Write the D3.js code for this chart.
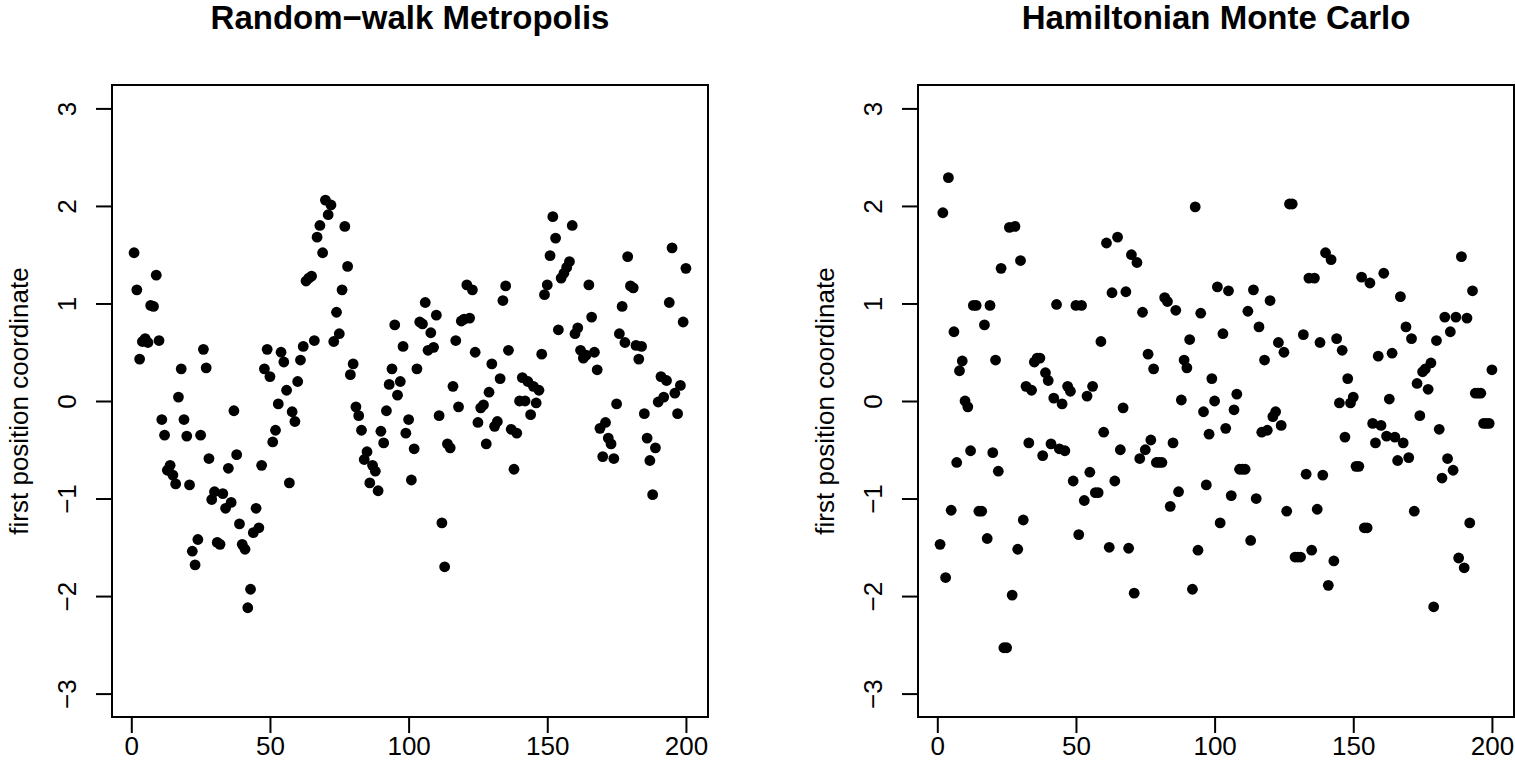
<!DOCTYPE html>
<html>
<head>
<meta charset="utf-8">
<script src="https://cdn.jsdelivr.net/npm/d3@7"></script>
<style>
  body { margin: 0; background: #fff; }
  svg { display: block; }
  text { font-family: "Liberation Sans", Arial, Helvetica, sans-serif; fill: #000; }
</style>
</head>
<body>
<div id="chart"></div>
<script>
var rwmTitle = 'Random\u2212walk Metropolis';
var hmcTitle = 'Hamiltonian Monte Carlo';
var yLabel = 'first position coordinate';
var xTicks = [0, 50, 100, 150, 200];
var yTicks = [-3, -2, -1, 0, 1, 2, 3];

// first coordinate at iterations 1..200, random-walk Metropolis
var rwmValues = [
  1.52, 1.14, 0.43, 0.61, 0.64, 0.60, 0.98, 0.97, 1.29, 0.62,
  -0.19, -0.35, -0.71, -0.66, -0.76, -0.85, 0.04, 0.33, -0.19, -0.36,
  -0.86, -1.54, -1.68, -1.42, -0.35, 0.53, 0.34, -0.59, -1.01, -0.93,
  -1.45, -1.47, -0.95, -1.10, -0.69, -1.04, -0.10, -0.55, -1.26, -1.47,
  -1.52, -2.12, -1.93, -1.35, -1.10, -1.30, -0.66, 0.33, 0.53, 0.25,
  -0.42, -0.30, -0.03, 0.50, 0.40, 0.11, -0.84, -0.11, -0.21, 0.20,
  0.42, 0.56, 1.23, 1.26, 1.28, 0.62, 1.68, 1.80, 1.52, 2.06,
  1.91, 2.01, 0.61, 0.91, 0.69, 1.14, 1.79, 1.38, 0.27, 0.38,
  -0.06, -0.15, -0.30, -0.60, -0.52, -0.84, -0.66, -0.72, -0.92, -0.31,
  -0.43, -0.10, 0.17, 0.33, 0.78, 0.06, 0.20, 0.56, -0.33, -0.19,
  -0.81, -0.49, 0.33, 0.81, 0.79, 1.01, 0.52, 0.70, 0.55, 0.88,
  -0.15, -1.25, -1.70, -0.44, -0.48, 0.15, 0.62, -0.06, 0.82, 0.84,
  1.19, 0.85, 1.14, 0.50, -0.22, -0.07, -0.04, -0.44, 0.09, 0.38,
  -0.26, -0.21, 0.23, 1.03, 1.18, 0.52, -0.29, -0.70, -0.33, 0.00,
  0.24, 0.00, 0.20, -0.14, 0.15, -0.02, 0.11, 0.48, 1.09, 1.19,
  1.49, 1.89, 1.67, 0.73, 1.26, 1.31, 1.37, 1.43, 1.80, 0.69,
  0.75, 0.52, 0.44, 0.47, 1.19, 0.86, 0.50, 0.32, -0.28, -0.57,
  -0.22, -0.38, -0.44, -0.59, -0.03, 0.69, 0.97, 0.60, 1.48, 1.18,
  1.16, 0.57, 0.43, 0.56, -0.13, -0.38, -0.61, -0.96, -0.48, -0.01,
  0.25, 0.04, 0.21, 1.01, 1.57, 0.08, -0.13, 0.16, 0.81, 1.36
];

// same coordinate, Hamiltonian Monte Carlo
var hmcValues = [
  -1.47, 1.93, -1.81, 2.29, -1.12, 0.71, -0.63, 0.31, 0.41, 0.00,
  -0.06, -0.51, 0.98, 0.98, -1.13, -1.13, 0.78, -1.41, 0.98, -0.53,
  0.42, -0.72, 1.36, -2.53, -2.53, 1.78, -1.99, 1.79, -1.52, 1.44,
  -1.22, 0.15, -0.43, 0.11, 0.40, 0.44, 0.44, -0.56, 0.29, 0.21,
  -0.44, 0.03, 0.99, -0.49, -0.03, -0.51, 0.15, 0.10, -0.82, 0.98,
  -1.37, 0.98, -1.02, 0.05, -0.73, 0.15, -0.94, -0.94, 0.61, -0.32,
  1.62, -1.50, 1.11, -0.82, 1.68, -0.50, -0.07, 1.12, -1.51, 1.50,
  -1.97, 1.42, -0.59, 0.91, -0.50, 0.48, -0.40, 0.33, -0.63, -0.63,
  -0.63, 1.06, 1.02, -1.08, -0.43, 0.93, -0.93, 0.01, 0.42, 0.34,
  0.63, -1.93, 1.99, -1.53, 0.90, -0.11, -0.86, -0.34, 0.23, 0.00,
  1.17, -1.25, 0.69, -0.28, 1.13, -0.97, -0.09, 0.07, -0.70, -0.70,
  -0.70, 0.92, -1.43, 1.14, -1.00, 0.76, -0.32, 0.42, -0.30, 1.03,
  -0.16, -0.11, 0.60, -0.25, 0.50, -1.13, 2.02, 2.02, -1.60, -1.60,
  -1.60, 0.68, -0.75, 1.26, -1.53, 1.26, -1.11, 0.60, -0.76, 1.52,
  -1.89, 1.45, -1.64, 0.64, -0.02, 0.52, -0.37, 0.23, -0.02, 0.04,
  -0.67, -0.67, 1.27, -1.30, -1.30, 1.21, -0.23, -0.43, 0.46, -0.25,
  1.31, -0.36, 0.02, 0.49, -0.37, -0.61, 1.07, -0.43, 0.76, -0.58,
  0.64, -1.13, 0.18, -0.15, 0.30, 0.33, 0.12, 0.39, -2.11, 0.62,
  -0.29, -0.79, 0.86, -0.59, 0.71, -0.71, 0.86, -1.61, 1.48, -1.71,
  0.85, -1.25, 1.13, 0.08, 0.08, 0.08, -0.23, -0.23, -0.23, 0.32
];

var width = 1515;
var height = 777;
var box = {top: 85, width: 596, height: 632};

var svg = d3.select('#chart').append('svg')
  .attr('width', width)
  .attr('height', height);

function panel(left, title, values) {
  var n = values.length;
  // R style: range padded by 4% on each side
  var padX = (n - 1) * 0.04;
  var x = d3.scaleLinear().domain([1 - padX, n + padX]).range([0, box.width]);
  var y = d3.scaleLinear().domain([-3.24, 3.24]).range([box.height, 0]);

  var g = svg.append('g')
    .attr('transform', 'translate(' + left + ',' + box.top + ')');

  // Points
  g.selectAll('.pt')
    .data(values)
    .enter().append('circle')
    .attr('class', 'pt')
    .attr('cx', function (d, i) { return x(i + 1); })
    .attr('cy', function (d) { return y(d); })
    .attr('r', 5.4)
    .style('fill', '#000');

  // X axis
  var xAxis = d3.axisBottom(x)
    .tickValues(xTicks)
    .tickSize(16)
    .tickPadding(4);
  var gx = g.append('g')
    .attr('transform', 'translate(0,' + box.height + ')')
    .call(xAxis);
  gx.select('.domain').remove();
  gx.selectAll('line').attr('stroke', '#000').attr('stroke-width', 2);
  gx.selectAll('text')
    .style('font-size', '26px')
    .attr('fill', '#000');

  // Y axis, labels turned like R's las = 0
  var yAxis = d3.axisLeft(y)
    .tickValues(yTicks)
    .tickSize(16)
    .tickFormat(function (v) { return v < 0 ? '\u2212' + Math.abs(v) : v; });
  var gy = g.append('g').call(yAxis);
  gy.select('.domain').remove();
  gy.selectAll('line').attr('stroke', '#000').attr('stroke-width', 2);
  gy.selectAll('text')
    .attr('x', 0)
    .attr('y', -36)
    .attr('dy', 0)
    .attr('transform', 'rotate(-90)')
    .style('text-anchor', 'middle')
    .style('font-size', '26px')
    .attr('fill', '#000');

  // Plot frame
  g.append('rect')
    .attr('width', box.width)
    .attr('height', box.height)
    .style('fill', 'none')
    .style('stroke', '#000')
    .style('stroke-width', 2);

  // Y axis title
  g.append('text')
    .attr('transform', 'translate(-84,' + (box.height / 2) + ') rotate(-90)')
    .style('text-anchor', 'middle')
    .style('font-size', '26px')
    .text(yLabel);

  // Panel title
  g.append('text')
    .attr('x', box.width / 2)
    .attr('y', 29 - box.top)
    .style('text-anchor', 'middle')
    .style('font-size', '33px')
    .style('font-weight', 'bold')
    .text(title);
}

panel(112, rwmTitle, rwmValues);
panel(918, hmcTitle, hmcValues);
</script>
</body>
</html>
